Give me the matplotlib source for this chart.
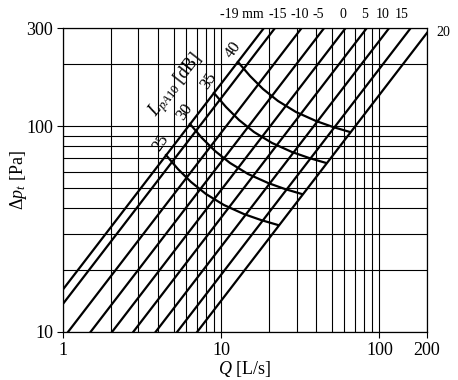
import numpy as np
import matplotlib
matplotlib.use("Agg")
import matplotlib.pyplot as plt
from matplotlib.ticker import FixedLocator, NullFormatter, LogLocator

plt.rcParams['font.family'] = ['Liberation Serif', 'DejaVu Serif']
plt.rcParams['mathtext.fontset'] = 'custom'
plt.rcParams['mathtext.rm'] = 'Liberation Serif'
plt.rcParams['mathtext.it'] = 'Liberation Serif:italic'

# valve setting lines: dp = k * Q^n  (k = dp at Q = 1 L/s)
settings = ['-19 mm', '-15', '-10', '-5', '0', '5', '10', '15', '20']
k_values = [16.1, 13.7, 9.3, 6.7, 4.9, 3.6, 2.6, 1.9, 1.42]
exponent = 1.0

# sound level curves L_pA10 [dB], points (Q, dp)
levels = ['40', '35', '30', '25']
curve_q = [
    [12.77, 15.21, 18.38, 22.86, 29.71, 39.74, 50.9, 65.2],
    [9.00, 10.72, 12.96, 16.12, 20.95, 28.03, 35.89, 45.97],
    [6.35, 7.56, 9.14, 11.36, 14.77, 19.76, 25.31, 32.42],
    [4.48, 5.33, 6.44, 8.02, 10.41, 13.94, 17.85, 22.86],
]
curve_dp = [
    [205.1, 175.4, 151.6, 132.6, 117.2, 106.0, 99.1, 93.7],
    [145.0, 124.0, 107.2, 93.7, 82.9, 74.9, 70.1, 66.3],
    [102.5, 87.6, 75.8, 66.3, 58.6, 53.0, 49.5, 46.8],
    [72.4, 61.9, 53.6, 46.8, 41.4, 37.4, 35.0, 33.1],
]

x_ticks = [1, 10, 100, 200]
y_ticks = [10, 100, 300]

# where the setting labels sit along the top edge (Q units)
label_q = [13.5, 22.9, 31.5, 40.9, 58.9, 81.1, 105.4, 139]

fig = plt.figure(figsize=(4.58, 3.80), dpi=100)
ax = fig.add_axes([63/458, 1-332/380, 364/458, 304/380])
ax.set_xscale('log')
ax.set_yscale('log')
ax.set_xlim(1, 200)
ax.set_ylim(10, 300)

ax.xaxis.set_major_locator(FixedLocator(x_ticks))
ax.set_xticklabels([str(t) for t in x_ticks])
ax.yaxis.set_major_locator(FixedLocator(y_ticks))
ax.set_yticklabels([str(t) for t in y_ticks])
ax.xaxis.set_minor_locator(LogLocator(base=10, subs=np.arange(2, 10)))
ax.yaxis.set_minor_locator(LogLocator(base=10, subs=np.arange(2, 10)))
ax.xaxis.set_minor_formatter(NullFormatter())
ax.yaxis.set_minor_formatter(NullFormatter())
ax.tick_params(which='major', direction='out', length=4, width=0.8, labelsize=13,
               colors='black', pad=3)
ax.tick_params(which='minor', length=0)
ax.grid(True, which='both', color='black', lw=0.8)
for s in ax.spines.values():
    s.set_linewidth(0.9)

q = np.array([0.5, 300.0])
for k in k_values:
    ax.plot(q, k * q ** exponent, color='black', lw=1.6)

trans = ax.get_xaxis_transform()
for lab, lq in zip(settings[:-1], label_q):
    ax.text(lq, 1.046, lab, transform=trans, ha='center', va='center', fontsize=10)
ax.text(1.025, k_values[-1] * 200 ** exponent, settings[-1],
        transform=ax.get_yaxis_transform(), ha='left', va='center', fontsize=10)

for lab, cq, cd in zip(levels, curve_q, curve_dp):
    ax.plot(cq, cd, color='black', lw=1.6)
    ax.annotate(lab, (cq[0], cd[0]), xytext=(-5, 12), textcoords='offset pixels',
                rotation=55, ha='center', va='center', fontsize=12)

ax.text(5.18, 158, r'$L_{pA10}$ [dB]', rotation=52, ha='center', va='center', fontsize=13)

ax.set_xlabel(r'$Q$ [L/s]', fontsize=13, labelpad=0)
ax.set_ylabel(r'$\Delta p_t$ [Pa]', fontsize=13, labelpad=-2)

fig.savefig('out.png', dpi=100)
